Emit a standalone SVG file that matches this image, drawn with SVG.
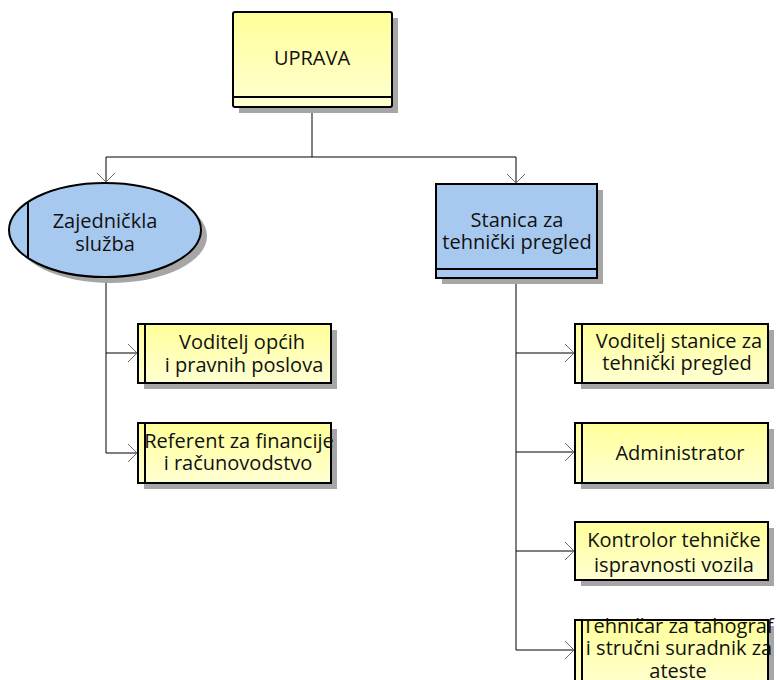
<svg xmlns="http://www.w3.org/2000/svg" width="777" height="680" viewBox="0 0 777 680">
<defs>
<linearGradient id="gy" x1="0" y1="0" x2="0" y2="1">
<stop offset="0" stop-color="#FFFF99"/>
<stop offset="1" stop-color="#FFFFD2"/>
</linearGradient>
<marker id="arr" viewBox="-10 -10 11 20" markerWidth="11" markerHeight="20" refX="0" refY="0" orient="auto" markerUnits="userSpaceOnUse">
<path d="M-9,-9 L0,0 L-9,9" fill="none" stroke="#6e6e6e" stroke-width="1"/>
</marker>
<style>
.sh{fill:#A6A6A6}
.yb{fill:url(#gy);stroke:#000;stroke-width:2}
.bb{fill:#A8C9EF;stroke:#000;stroke-width:2}
.ln{stroke:#000;stroke-width:2;fill:none}
.t{font-family:"Open Sans","Noto Sans",sans-serif;font-size:20px;fill:#111;text-anchor:middle}
.c{fill:none;stroke:#000;stroke-width:1;marker-end:url(#arr)}
.c0{fill:none;stroke:#000;stroke-width:1}
</style>
</defs>
<rect width="777" height="680" fill="#fff"/>

<g id="connectors">
<path class="c" d="M312,107 V157 H106 V182"/>
<path class="c" d="M312,157 H516 V183"/>
<path class="c" d="M106,277 V453 H137"/>
<path class="c" d="M106,353 H137"/>
<path class="c" d="M516,278 V650 H574"/>
<path class="c" d="M516,353 H574"/>
<path class="c" d="M516,452 H574"/>
<path class="c" d="M516,551 H574"/>
</g>

<g id="uprava">
<rect class="sh" x="239" y="18" width="159" height="95"/>
<rect class="yb" x="233" y="12" width="159" height="95" rx="2"/>
<line class="ln" x1="233" y1="97" x2="392" y2="97"/>
<text class="t" x="312" y="65">UPRAVA</text>
</g>

<g id="zajednicka">
<ellipse class="sh" cx="111" cy="236" rx="96" ry="47"/>
<ellipse class="bb" cx="105" cy="230" rx="96" ry="47"/>
<line class="ln" x1="28" y1="202" x2="28" y2="258"/>
<text class="t" x="105" y="228">Zajedničkla</text>
<text class="t" x="105" y="251">služba</text>
</g>

<g id="stanica">
<rect class="sh" x="442" y="190" width="161" height="94"/>
<rect class="bb" x="436" y="184" width="161" height="94"/>
<line class="ln" x1="436" y1="269" x2="597" y2="269"/>
<text class="t" x="517" y="227">Stanica za</text>
<text class="t" x="517" y="249">tehnički pregled</text>
</g>

<g id="voditelj-opcih">
<rect class="sh" x="144" y="330" width="193" height="59"/>
<rect class="yb" x="138" y="324" width="193" height="59"/>
<line class="ln" x1="145" y1="324" x2="145" y2="383"/>
<text class="t" x="242" y="349">Voditelj općih</text>
<text class="t" x="244" y="372">i pravnih poslova</text>
</g>

<g id="referent">
<rect class="sh" x="144" y="429" width="193" height="60"/>
<rect class="yb" x="138" y="423" width="193" height="60"/>
<line class="ln" x1="145" y1="423" x2="145" y2="483"/>
<text class="t" x="239" y="448">Referent za financije</text>
<text class="t" x="238" y="470">i računovodstvo</text>
</g>

<g id="voditelj-stanice">
<rect class="sh" x="581" y="330" width="193" height="59"/>
<rect class="yb" x="575" y="324" width="193" height="59"/>
<line class="ln" x1="582" y1="324" x2="582" y2="383"/>
<text class="t" x="679" y="348">Voditelj stanice za</text>
<text class="t" x="677" y="370">tehnički pregled</text>
</g>

<g id="administrator">
<rect class="sh" x="581" y="429" width="193" height="60"/>
<rect class="yb" x="575" y="423" width="193" height="60"/>
<line class="ln" x1="582" y1="423" x2="582" y2="483"/>
<text class="t" x="680" y="460">Administrator</text>
</g>

<g id="kontrolor">
<rect class="sh" x="581" y="528" width="193" height="58"/>
<rect class="yb" x="575" y="522" width="193" height="58"/>
<text class="t" x="674" y="547">Kontrolor tehničke</text>
<text class="t" x="674" y="572">ispravnosti vozila</text>
</g>

<g id="tehnicar">
<rect class="sh" x="581" y="626" width="193" height="70"/>
<rect class="yb" x="575" y="620" width="193" height="70"/>
<line class="ln" x1="582" y1="620" x2="582" y2="690"/>
<text class="t" x="678" y="633">Tehničar za tahograf</text>
<text class="t" x="679" y="655">i stručni suradnik za</text>
<text class="t" x="678" y="678">ateste</text>
</g>
</svg>
